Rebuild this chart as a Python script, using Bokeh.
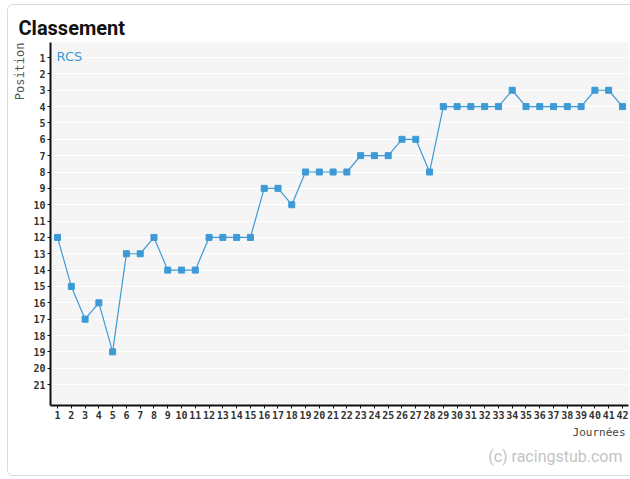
from bokeh.plotting import figure
from bokeh.models import Range1d, FixedTicker, Label, Title, ColumnDataSource, InlineStyleSheet
from bokeh.embed import file_html
from bokeh.resources import INLINE

journees = list(range(1, 43))
positions = [12, 15, 17, 16, 19, 13, 13, 12, 14, 14, 14, 12, 12, 12, 12, 9, 9, 10, 8, 8,
             8, 8, 7, 7, 7, 6, 6, 8, 4, 4, 4, 4, 4, 3, 4, 4, 4, 4, 4, 3, 3, 4]
y_ticks = list(range(1, 22))
team = "RCS"
title = "Classement"
x_title = "Journées"
y_title = "Position"
credit = "(c) racingstub.com"

BLUE = "#3d9ad6"

p = figure(width=630, height=479, output_backend="svg", toolbar_location=None,
           x_range=Range1d(0.49, 42.44), y_range=Range1d(22.28, 0.08),
           min_border_left=50, min_border_top=42, min_border_right=2, min_border_bottom=74)
p.background_fill_color = "#f5f5f5"
p.border_fill_color = "white"
p.outline_line_color = None
p.stylesheets = [InlineStyleSheet(css="""
:host { overflow: hidden; }
:host::after { content: ""; position: absolute; left: 7px; top: 4px; width: 640px;
  height: 472px; border: 1px solid #dcdcdc; border-radius: 6px; pointer-events: none;
  box-sizing: border-box; }
""")]

p.xgrid.grid_line_color = None
p.ygrid.grid_line_color = "white"
p.ygrid.grid_line_width = 1

for ax, ticks in ((p.xaxis, journees), (p.yaxis, y_ticks)):
    ax.ticker = FixedTicker(ticks=ticks)
    ax.axis_line_color = "#111111"
    ax.axis_line_width = 2
    ax.major_tick_line_color = "#111111"
    ax.major_tick_out = 3
    ax.major_tick_in = 0
    ax.minor_tick_out = 0
    ax.minor_tick_in = 0
    ax.major_label_standoff = 2
    ax.major_label_text_font = "DejaVu Sans Mono"
    ax.major_label_text_font_size = "10px"
    ax.major_label_text_font_style = "bold"
    ax.major_label_text_color = "#333333"

src = ColumnDataSource(dict(x=journees, y=positions))
p.line("x", "y", source=src, line_color=BLUE, line_width=1.2)
p.scatter("x", "y", source=src, marker="square", size=6, fill_color=BLUE, line_color=BLUE)

p.title.text = title
p.title.align = "left"
p.title.offset = -32
p.title.standoff = 6
p.title.text_font = "Roboto"
p.title.text_font_style = "bold"
p.title.text_font_size = "20px"
p.title.text_color = "#111111"

p.add_layout(Title(text=y_title, align="right", text_font="DejaVu Sans Mono",
                   text_font_size="12px", text_font_style="normal", text_color="#555555",
                   standoff=8), "left")
p.add_layout(Title(text=x_title, align="right", vertical_align="top", text_font="DejaVu Sans Mono",
                   text_font_size="11px", text_font_style="normal", text_color="#444444",
                   standoff=8, offset=3), "below")
p.add_layout(Title(text=credit, align="right", text_font="Roboto",
                   text_font_size="16px", text_font_style="normal", text_color="#c4c4c4",
                   standoff=0, offset=6), "below")

p.add_layout(Label(x=56, y=56, x_units="canvas", y_units="canvas", text=team,
                   text_font="DejaVu Sans", text_font_size="13px", text_color=BLUE,
                   text_baseline="middle"))

open("out.html", "w").write(file_html(p, INLINE))
